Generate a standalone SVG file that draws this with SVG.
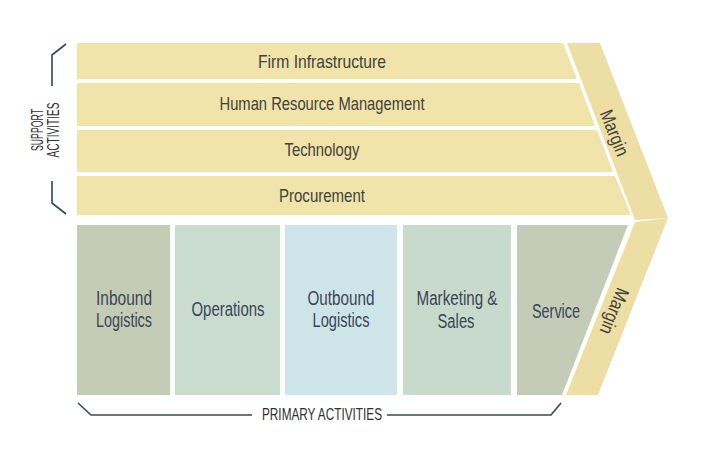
<svg xmlns="http://www.w3.org/2000/svg" width="707" height="451" viewBox="0 0 707 451">
<style>
.sup{fill:#F0E4AA}
.mar{fill:#EDDFA3}
.st{font-family:"Liberation Sans",Arial,sans-serif;font-size:19px;fill:#43423a;text-anchor:middle}
.pt{font-family:"Liberation Sans",Arial,sans-serif;font-size:20px;fill:#394558;text-anchor:middle}
.lab{font-family:"Liberation Sans",Arial,sans-serif;font-size:17px;fill:#303030;text-anchor:middle}
.br{fill:none;stroke:#2f4d4b;stroke-width:1.6}
</style>
<rect width="707" height="451" fill="#ffffff"/>
<g id="margin">
<polygon class="mar" points="567,43 600,43 668,218 635,220"/>
<polygon class="mar" points="635,222 668,218 598,395 566,395"/>
<text class="st" font-size="18" transform="translate(614,133) rotate(68)" dy="6" textLength="48" lengthAdjust="spacingAndGlyphs">Margin</text>
<text class="st" font-size="18" transform="translate(614,311) rotate(112)" dy="6" textLength="48" lengthAdjust="spacingAndGlyphs">Margin</text>
</g>
<g id="firm-infrastructure">
<polygon class="sup" points="77,43 563,43 577,79 77,79"/>
<text class="st" x="322" y="68" textLength="128" lengthAdjust="spacingAndGlyphs">Firm Infrastructure</text>
</g>
<g id="human-resource-management">
<polygon class="sup" points="77,83 579,83 595,126 77,126"/>
<text class="st" x="322" y="110" textLength="205" lengthAdjust="spacingAndGlyphs">Human Resource Management</text>
</g>
<g id="technology">
<polygon class="sup" points="77,130 597,130 613,172 77,172"/>
<text class="st" x="322" y="156" textLength="75" lengthAdjust="spacingAndGlyphs">Technology</text>
</g>
<g id="procurement">
<polygon class="sup" points="77,176 615,176 631,215 77,215"/>
<text class="st" x="322" y="202" textLength="86" lengthAdjust="spacingAndGlyphs">Procurement</text>
</g>
<g id="inbound-logistics">
<rect x="77" y="225" width="93" height="170" fill="#C5CCB5"/>
<text class="pt" x="124" y="305" textLength="56" lengthAdjust="spacingAndGlyphs">Inbound</text>
<text class="pt" x="124" y="327" textLength="56" lengthAdjust="spacingAndGlyphs">Logistics</text>
</g>
<g id="operations">
<rect x="175" y="225" width="105" height="170" fill="#C9DCCD"/>
<text class="pt" x="228" y="316" textLength="73" lengthAdjust="spacingAndGlyphs">Operations</text>
</g>
<g id="outbound-logistics">
<rect x="285" y="225" width="112" height="170" fill="#CDE5E8"/>
<text class="pt" x="341" y="305" textLength="67" lengthAdjust="spacingAndGlyphs">Outbound</text>
<text class="pt" x="341" y="327" textLength="57" lengthAdjust="spacingAndGlyphs">Logistics</text>
</g>
<g id="marketing-sales">
<rect x="403" y="225" width="108" height="170" fill="#C7DACC"/>
<text class="pt" x="457" y="305" textLength="81" lengthAdjust="spacingAndGlyphs">Marketing &amp;</text>
<text class="pt" x="456" y="328" textLength="37" lengthAdjust="spacingAndGlyphs">Sales</text>
</g>
<g id="service">
<polygon points="517,225 628,225 562,395 517,395" fill="#C4CCB7"/>
<text class="pt" x="556" y="318" textLength="48" lengthAdjust="spacingAndGlyphs">Service</text>
</g>
<g id="connectors">
<polyline class="br" points="66,44 52,55 52,86"/>
<polyline class="br" points="52,181 52,203 66,214"/>
<polyline class="br" points="78,403 91,415 252,415"/>
<polyline class="br" points="387,415 551,415 561,403"/>
</g>
<g id="labels">
<text class="lab" transform="translate(43,130) rotate(-90)" textLength="42" lengthAdjust="spacingAndGlyphs">SUPPORT</text>
<text class="lab" transform="translate(59,130) rotate(-90)" textLength="55" lengthAdjust="spacingAndGlyphs">ACTIVITIES</text>
<text class="lab" x="322" y="420" textLength="120" lengthAdjust="spacingAndGlyphs">PRIMARY ACTIVITIES</text>
</g>
</svg>
